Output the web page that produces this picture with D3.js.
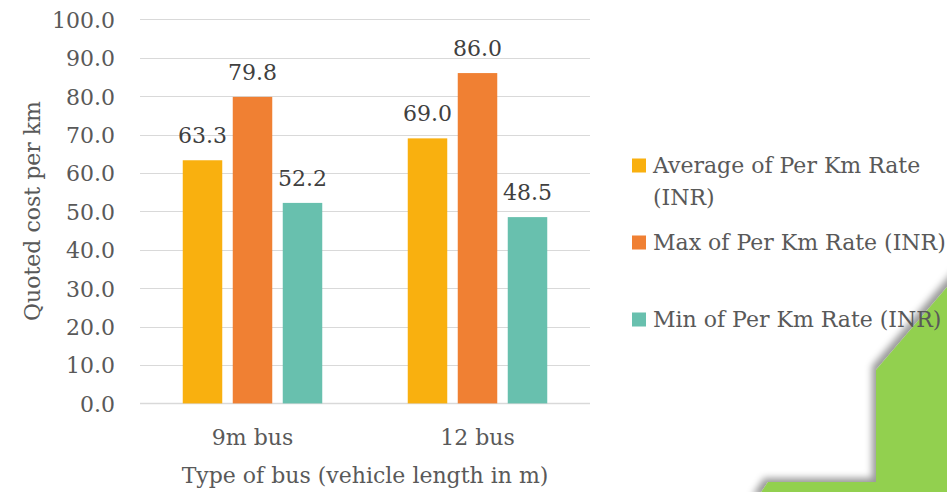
<!DOCTYPE html>
<html><head><meta charset="utf-8">
<script src="https://cdn.jsdelivr.net/npm/d3@7"></script>
<style>html,body{margin:0;padding:0;background:#fff;}svg{display:block;font-family:"DejaVu Serif",serif;}</style>
</head><body>
<svg id="c" width="947" height="492"></svg>
<script>
const categories = ["9m bus", "12 bus"];
const seriesNames = ["Average of Per Km Rate (INR)", "Max of Per Km Rate (INR)", "Min of Per Km Rate (INR)"];
const averageValues = [63.3, 69.0];
const maxValues = [79.8, 86.0];
const minValues = [52.2, 48.5];
const yTicks = [0, 10, 20, 30, 40, 50, 60, 70, 80, 90, 100];
const colors = ["#F9B00F", "#F08033", "#68C0AE"];

const svg = d3.select("#c");
const defs = svg.append("defs");
const f = defs.append("filter").attr("id","sh").attr("x","-20%").attr("y","-20%").attr("width","140%").attr("height","140%");
f.append("feDropShadow").attr("dx",-4).attr("dy",-4).attr("stdDeviation",3.5).attr("flood-color","#000").attr("flood-opacity",0.4);

// decorative green shape (background)
svg.append("path")
  .attr("d","M960,272 L876,370 L876,482 L768,482 L756,500 L960,500 Z")
  .attr("fill","#92D050").attr("filter","url(#sh)");

const m = {left:140, right:590, top:19.3, bottom:403.4};
const x0 = d3.scaleBand().domain(categories).range([m.left, m.right]).paddingInner(0.38).paddingOuter(0.19);
const x1 = d3.scaleBand().domain(d3.range(3)).range([0, x0.bandwidth()]).paddingInner(0.21);
const y = d3.scaleLinear().domain([0,100]).range([m.bottom, m.top]);

// gridlines
svg.append("g").selectAll("line").data(yTicks).join("line")
  .attr("x1", m.left).attr("x2", m.right)
  .attr("y1", d=>Math.round(y(d))+0.5).attr("y2", d=>Math.round(y(d))+0.5)
  .attr("stroke", "#D9D9D9").attr("stroke-width", d=> d===0?1.5:1);

const FS = 22;
const txt = "#595959";

// y axis labels
const yAxis = d3.axisLeft(y).tickValues(yTicks).tickFormat(d3.format(".1f")).tickSize(0).tickPadding(0);
const ya = svg.append("g").attr("transform",`translate(${m.left-25},0)`).call(yAxis);
ya.select(".domain").remove();
ya.selectAll("text").attr("font-family","DejaVu Serif").attr("font-size",FS).attr("fill",txt).attr("dy","0.36em");

const series = [averageValues, maxValues, minValues];
const data = [];
categories.forEach((c,i)=>series.forEach((s,j)=>data.push({c, j, v:s[i]})));

svg.append("g").selectAll("rect").data(data).join("rect")
  .attr("x", d=>x0(d.c)+x1(d.j)).attr("width", x1.bandwidth())
  .attr("y", d=>y(d.v)).attr("height", d=>y(0)-y(d.v))
  .attr("fill", d=>colors[d.j]);

svg.append("g").selectAll("text").data(data).join("text")
  .attr("x", d=>x0(d.c)+x1(d.j)+x1.bandwidth()/2)
  .attr("y", d=>y(d.v)-17)
  .attr("text-anchor","middle").attr("font-size",FS).attr("fill","#404040")
  .text(d=>d.v.toFixed(1));

// x axis labels
const xAxis = d3.axisBottom(x0).tickSize(0).tickPadding(0);
const xa = svg.append("g").attr("transform",`translate(0,${m.bottom})`).call(xAxis);
xa.select(".domain").remove();
xa.selectAll("text").attr("font-family","DejaVu Serif").attr("font-size",FS).attr("fill",txt).attr("dy",null).attr("y",41.5);

// axis titles
svg.append("text").attr("x",365).attr("y",483).attr("text-anchor","middle").attr("font-size",FS).attr("fill",txt)
  .text("Type of bus (vehicle length in m)");
svg.append("text").attr("transform","translate(40,211) rotate(-90)").attr("text-anchor","middle").attr("font-size",FS).attr("fill",txt)
  .text("Quoted cost per km");

// legend
const legendRows = [
  {lines:["Average of Per Km Rate","(INR)"], y:173},
  {lines:["Max of Per Km Rate (INR)"], y:250},
  {lines:["Min of Per Km Rate (INR)"], y:327}
];
const lg = svg.append("g");
legendRows.forEach((r,i)=>{
  lg.append("rect").attr("x",632).attr("y",r.y-14.5).attr("width",14).attr("height",14).attr("fill",colors[i]);
  const t = lg.append("text").attr("x",653).attr("y",r.y).attr("font-size",FS).attr("fill",txt);
  r.lines.forEach((l,k)=>t.append("tspan").attr("x",653).attr("dy",k===0?0:32).text(l));
});
</script>
</body></html>
